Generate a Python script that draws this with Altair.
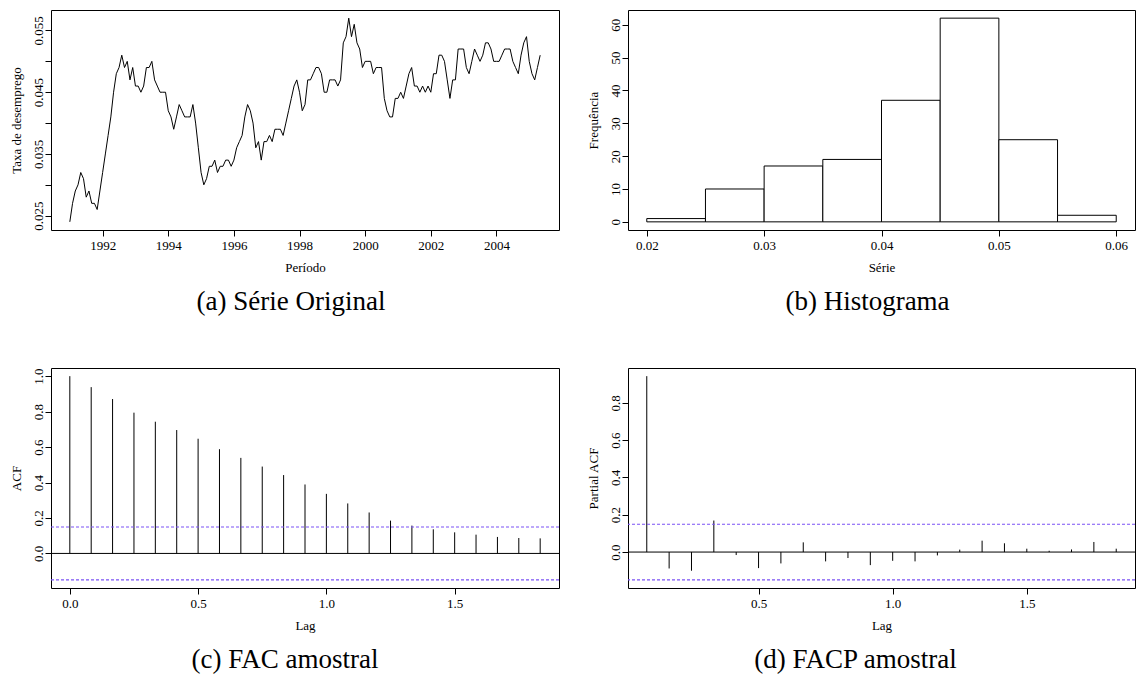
import altair as alt
import pandas as pd

FONT = "Liberation Serif"

# ---------------- data ----------------
taxa = [
    0.024, 0.027, 0.029, 0.030, 0.032, 0.031, 0.028, 0.029, 0.027, 0.027, 0.026, 0.029,  # 1991
    0.032, 0.035, 0.038, 0.041, 0.045, 0.048, 0.049, 0.051, 0.049, 0.050, 0.047, 0.049,  # 1992
    0.046, 0.046, 0.045, 0.046, 0.049, 0.049, 0.050, 0.047, 0.046, 0.045, 0.045, 0.045,  # 1993
    0.042, 0.041, 0.039, 0.041, 0.043, 0.042, 0.041, 0.041, 0.041, 0.043, 0.040, 0.036,  # 1994
    0.032, 0.030, 0.031, 0.033, 0.033, 0.034, 0.032, 0.033, 0.033, 0.034, 0.034, 0.033,  # 1995
    0.034, 0.036, 0.037, 0.038, 0.041, 0.043, 0.042, 0.040, 0.036, 0.037, 0.034, 0.037,  # 1996
    0.037, 0.038, 0.037, 0.039, 0.039, 0.039, 0.038, 0.040, 0.042, 0.044, 0.046, 0.047,  # 1997
    0.045, 0.042, 0.043, 0.047, 0.047, 0.048, 0.049, 0.049, 0.048, 0.045, 0.045, 0.047,  # 1998
    0.047, 0.047, 0.046, 0.047, 0.053, 0.054, 0.057, 0.054, 0.056, 0.053, 0.052, 0.049,  # 1999
    0.050, 0.050, 0.050, 0.048, 0.049, 0.049, 0.049, 0.044, 0.042, 0.041, 0.041, 0.044,  # 2000
    0.044, 0.045, 0.044, 0.046, 0.048, 0.049, 0.046, 0.046, 0.045, 0.046, 0.045, 0.046,  # 2001
    0.045, 0.048, 0.048, 0.051, 0.051, 0.050, 0.047, 0.044, 0.047, 0.047, 0.052, 0.052,  # 2002
    0.052, 0.049, 0.048, 0.050, 0.052, 0.051, 0.050, 0.051, 0.053, 0.053, 0.052, 0.050,  # 2003
    0.050, 0.050, 0.051, 0.052, 0.052, 0.052, 0.050, 0.049, 0.048, 0.051, 0.053, 0.054,  # 2004
    0.050, 0.048, 0.047, 0.049, 0.051,                                                   # 2005
]
ano_inicio = 1991

hist_lo = [0.020, 0.025, 0.030, 0.035, 0.040, 0.045, 0.050, 0.055]
hist_hi = [0.025, 0.030, 0.035, 0.040, 0.045, 0.050, 0.055, 0.060]
hist_counts = [1, 10, 17, 19, 37, 62, 25, 2]

acf_vals = [1.000, 0.938, 0.871, 0.794, 0.743, 0.696, 0.647, 0.588, 0.539, 0.490, 0.442,
            0.389, 0.336, 0.282, 0.231, 0.185, 0.157, 0.136, 0.119, 0.106, 0.093, 0.087, 0.085]
pacf_vals = [0.943, -0.088, -0.100, 0.169, -0.016, -0.086, -0.061, 0.052, -0.050, -0.032, -0.070,
             -0.047, -0.050, -0.018, 0.013, 0.061, 0.047, 0.018, 0.007, 0.014, 0.054, 0.018]
conf_limits = [0.149, -0.149]
zero_line = [0.0]

ts_x_ticks = [1992, 1994, 1996, 1998, 2000, 2002, 2004]
ts_y_ticks = [0.025, 0.030, 0.035, 0.040, 0.045, 0.050, 0.055]
hist_x_ticks = [0.02, 0.03, 0.04, 0.05, 0.06]
hist_y_ticks = [0, 10, 20, 30, 40, 50, 60]
acf_x_ticks = [0.0, 0.5, 1.0, 1.5]
acf_y_ticks = [0.0, 0.2, 0.4, 0.6, 0.8, 1.0]
pacf_x_ticks = [0.5, 1.0, 1.5]
pacf_y_ticks = [0.0, 0.2, 0.4, 0.6, 0.8]

BLUE = "#7b52f5"


def rng(lo, hi):
    pad = (hi - lo) * 0.04
    return [lo - pad, hi + pad]


def xaxis(values, fmt, title):
    return alt.Axis(values=values, format=fmt, title=title, domain=False, grid=False,
                    tickSize=6, tickColor="black", tickWidth=1,
                    labelFont=FONT, labelFontSize=13, labelColor="black",
                    labelPadding=3, labelFlush=False, labelOverlap=False,
                    titleFont=FONT, titleFontSize=13, titleFontWeight="normal",
                    titleColor="black", titlePadding=9)


def yaxis(values, fmt, title, expr=None):
    kw = dict(values=values, format=fmt, title=title, domain=False, grid=False,
              tickSize=6, tickColor="black", tickWidth=1,
              labelFont=FONT, labelFontSize=13, labelColor="black",
              labelAngle=270, labelAlign="center", labelBaseline="alphabetic",
              labelPadding=3, labelFlush=False, labelOverlap=False,
              titleFont=FONT, titleFontSize=13, titleFontWeight="normal",
              titleColor="black", titlePadding=9)
    if expr is not None:
        kw["labelExpr"] = expr
    return alt.Axis(**kw)


def caption(text, dx):
    return alt.TitleParams(text=text, orient="bottom", anchor="middle", frame="group",
                           font=FONT, fontSize=27, fontWeight="normal", color="black",
                           offset=15, dx=dx)


W_L, W_R, H = 508, 507, 220

# ---------------- (a) série original ----------------
ts_df = pd.DataFrame({"t": [ano_inicio + i / 12 for i in range(len(taxa))], "v": taxa})
tsx = alt.Scale(domain=rng(ano_inicio, ano_inicio + (len(taxa) - 1) / 12), nice=False, zero=False)
tsy = alt.Scale(domain=rng(min(taxa), max(taxa)), nice=False, zero=False)
panel_a = alt.Chart(ts_df).mark_line(color="black", strokeWidth=1).encode(
    x=alt.X("t:Q", scale=tsx, axis=xaxis(ts_x_ticks, "d", "Período")),
    y=alt.Y("v:Q", scale=tsy, axis=yaxis(ts_y_ticks, ".3f", "Taxa de desemprego",
                                         "round(datum.value*1000) % 10 == 0 ? '' : format(datum.value, '.3f')")),
).properties(width=W_L, height=H, title=caption("(a) Série Original", -14))

# ---------------- (b) histograma ----------------
hist_df = pd.DataFrame({"lo": hist_lo, "hi": hist_hi, "n": hist_counts})
hx = alt.Scale(domain=rng(min(hist_lo), max(hist_hi)), nice=False, zero=False)
hy = alt.Scale(domain=rng(0, max(hist_counts)), nice=False, zero=False)
panel_b = alt.Chart(hist_df).mark_rect(fill="white", stroke="black", strokeWidth=1).encode(
    x=alt.X("lo:Q", scale=hx, axis=xaxis(hist_x_ticks, ".2f", "Série")),
    x2="hi:Q",
    y=alt.Y("n:Q", scale=hy, axis=yaxis(hist_y_ticks, "d", "Frequência")),
    y2=alt.datum(0),
).properties(width=W_R, height=H, title=caption("(b) Histograma", -14))

# ---------------- (c) ACF ----------------
acf_df = pd.DataFrame({"lag": [k / 12 for k in range(len(acf_vals))], "r": acf_vals})
ax_c = alt.Scale(domain=rng(0, (len(acf_vals) - 1) / 12), nice=False, zero=False)
ay_c = alt.Scale(domain=rng(min(min(acf_vals), min(conf_limits)), max(max(acf_vals), max(conf_limits))),
                 nice=False, zero=False)
acf_bars = alt.Chart(acf_df).mark_rule(color="black", strokeWidth=1).encode(
    x=alt.X("lag:Q", scale=ax_c, axis=xaxis(acf_x_ticks, ".1f", "Lag")),
    y=alt.Y("r:Q", scale=ay_c, axis=yaxis(acf_y_ticks, ".1f", "ACF")),
    y2=alt.datum(0),
)
acf_zero = alt.Chart(pd.DataFrame({"r": zero_line})).mark_rule(color="black", strokeWidth=1).encode(
    y=alt.Y("r:Q", scale=ay_c))
acf_conf = alt.Chart(pd.DataFrame({"r": conf_limits})).mark_rule(
    color=BLUE, strokeWidth=1.2, strokeDash=[3, 2]).encode(y=alt.Y("r:Q", scale=ay_c))
panel_c = alt.layer(acf_bars, acf_zero, acf_conf).properties(
    width=W_L, height=H, title=caption("(c) FAC amostral", -20))

# ---------------- (d) PACF ----------------
pacf_df = pd.DataFrame({"lag": [(k + 1) / 12 for k in range(len(pacf_vals))], "r": pacf_vals})
ax_d = alt.Scale(domain=rng(1 / 12, len(pacf_vals) / 12), nice=False, zero=False)
ay_d = alt.Scale(domain=rng(min(min(pacf_vals), min(conf_limits)), max(max(pacf_vals), max(conf_limits))),
                 nice=False, zero=False)
pacf_bars = alt.Chart(pacf_df).mark_rule(color="black", strokeWidth=1).encode(
    x=alt.X("lag:Q", scale=ax_d, axis=xaxis(pacf_x_ticks, ".1f", "Lag")),
    y=alt.Y("r:Q", scale=ay_d, axis=yaxis(pacf_y_ticks, ".1f", "Partial ACF")),
    y2=alt.datum(0),
)
pacf_zero = alt.Chart(pd.DataFrame({"r": zero_line})).mark_rule(color="black", strokeWidth=1).encode(
    y=alt.Y("r:Q", scale=ay_d))
pacf_conf = alt.Chart(pd.DataFrame({"r": conf_limits})).mark_rule(
    color=BLUE, strokeWidth=1.2, strokeDash=[3, 2]).encode(y=alt.Y("r:Q", scale=ay_d))
panel_d = alt.layer(pacf_bars, pacf_zero, pacf_conf).properties(
    width=W_R, height=H, title=caption("(d) FACP amostral", -26))

chart = alt.concat(
    panel_a, panel_b, panel_c, panel_d,
    columns=2,
    spacing=alt.RowColnumber(row=138, column=69),
    bounds="flush",
).properties(
    padding={"left": 9, "top": 9, "right": 0, "bottom": 0},
    background="white",
).configure_view(
    stroke="black", strokeWidth=1, fill="white"
)

chart.save("out.html", embed_options={"renderer": "svg", "actions": False})
